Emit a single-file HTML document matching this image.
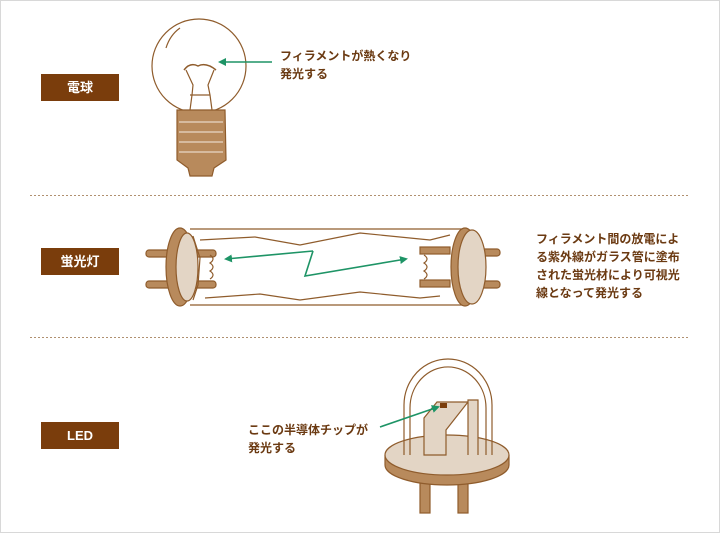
<!DOCTYPE html>
<html><head><meta charset="utf-8"><style>
html,body{margin:0;padding:0;background:#fff}
svg{display:block}
text{font-family:"Liberation Sans","Noto Sans CJK JP",sans-serif;font-size:12px;fill:#6b3a12;font-weight:bold}
</style></head><body>
<svg width="720" height="533" viewBox="0 0 720 533" xmlns="http://www.w3.org/2000/svg">
<defs><marker id="ah" markerWidth="8" markerHeight="8" refX="6" refY="4" orient="auto" markerUnits="userSpaceOnUse"><path d="M0,0 L8,4 L0,8 z" fill="#1e9466"/></marker></defs>
<rect x="0.5" y="0.5" width="719" height="532" fill="#fff" stroke="#d8d8d8"/>
<rect x="41" y="74" width="78" height="27" fill="#7a3d0c"/>
<text x="80" y="92" text-anchor="middle" style="fill:#fff;font-size:13px">電球</text>
<rect x="41" y="248" width="78" height="27" fill="#7a3d0c"/>
<text x="80" y="266" text-anchor="middle" style="fill:#fff;font-size:13px">蛍光灯</text>
<rect x="41" y="422" width="78" height="27" fill="#7a3d0c"/>
<text x="80" y="440" text-anchor="middle" style="fill:#fff;font-size:13px">LED</text>
<line x1="30" y1="195.5" x2="690" y2="195.5" stroke="#b09070" stroke-dasharray="2,2"/>
<line x1="30" y1="337.5" x2="690" y2="337.5" stroke="#b09070" stroke-dasharray="2,2"/>
<g stroke="#8f5c2c" stroke-width="1.2" fill="none">
<!-- bulb -->
<circle cx="199" cy="66" r="47" fill="#fff"/>
<path d="M166,48 Q170,35 180,28" />
<path d="M186,70 L193,85 L192,95 L190,110 M214,70 L208,85 L210,95 L212,110 M190,95 L210,95"/>
<path d="M184,70 Q190,62 198,66 Q206,62 216,70" stroke-width="1.5"/>
<path d="M177,110 L225,110 L226,160 L214,168 L212,176 L190,176 L188,168 L177,160 Z" fill="#b88a5c"/>
<path d="M179,122 L223,122 M179,132 L223,132 M179,142 L223,142 M179,152 L223,152" stroke="#e8d8c6"/>
<!-- tube -->
<path d="M190,229 L462,229 L462,305 L190,305" fill="#fff"/>
<path d="M200,240 L255,237 L300,245 L360,233 L430,240 L450,235 M205,298 L260,294 L300,300 L360,292 L420,298 L440,296"/>
<g fill="#b88a5c">
<rect x="146" y="250" width="70" height="7" rx="3"/><rect x="146" y="281" width="70" height="7" rx="3"/>
<rect x="420" y="247" width="30" height="7"/><rect x="420" y="280" width="30" height="7"/>
<rect x="480" y="249" width="20" height="7" rx="3"/><rect x="480" y="281" width="20" height="7" rx="3"/></g>
<ellipse cx="180" cy="267" rx="14" ry="39" fill="#b88a5c"/>
<ellipse cx="187" cy="267" rx="11" ry="34" fill="#e3d5c5"/>
<path d="M193,236 L200,258 L198,285 L193,300" />
<ellipse cx="465" cy="267" rx="14" ry="39" fill="#b88a5c"/>
<ellipse cx="472" cy="267" rx="14" ry="37" fill="#e3d5c5"/>
<path d="M210,255 q6,4 0,8 q6,4 0,8 q6,4 0,8 M424,255 q6,4 0,8 q6,4 0,8 q6,4 0,8"/>
<!-- LED -->
<rect x="420" y="470" width="10" height="43" fill="#b88a5c"/>
<rect x="458" y="470" width="10" height="43" fill="#b88a5c"/>
<path d="M385,455 L385,465 A62,20 0 0 0 509,465 L509,455" fill="#b88a5c"/>
<ellipse cx="447" cy="455" rx="62" ry="20" fill="#e3d5c5"/>
<path d="M404,455 L404,405 A44,46 0 0 1 492,405 L492,455" fill="none"/>
<path d="M410,455 L410,408 A37,40 0 0 1 486,408 L486,455"/>
<path d="M424,455 L424,418 L437,402 L468,402 L446,430 L446,455 Z" fill="#e3d5c5"/>
<path d="M468,455 L468,400 L478,400 L478,455" fill="#e3d5c5"/>
<rect x="440" y="403" width="7" height="5" fill="#7a3d0c" stroke="none"/>
</g>
<g stroke="#1e9466" stroke-width="1.6" fill="none">
<line x1="272" y1="62" x2="220" y2="62" marker-end="url(#ah)"/>
<path d="M313,251 L305,276 L406,259" marker-end="url(#ah)"/>
<path d="M313,251 L226,259" marker-end="url(#ah)"/>
<line x1="380" y1="427" x2="438" y2="407" marker-end="url(#ah)"/>
</g>
<text x="280" y="60">フィラメントが熱くなり</text>
<text x="280" y="78">発光する</text>
<text x="536" y="243">フィラメント間の放電によ</text>
<text x="536" y="261">る紫外線がガラス管に塗布</text>
<text x="536" y="279">された蛍光材により可視光</text>
<text x="536" y="297">線となって発光する</text>
<text x="248" y="434">ここの半導体チップが</text>
<text x="248" y="452">発光する</text>
</svg>
</body></html>
